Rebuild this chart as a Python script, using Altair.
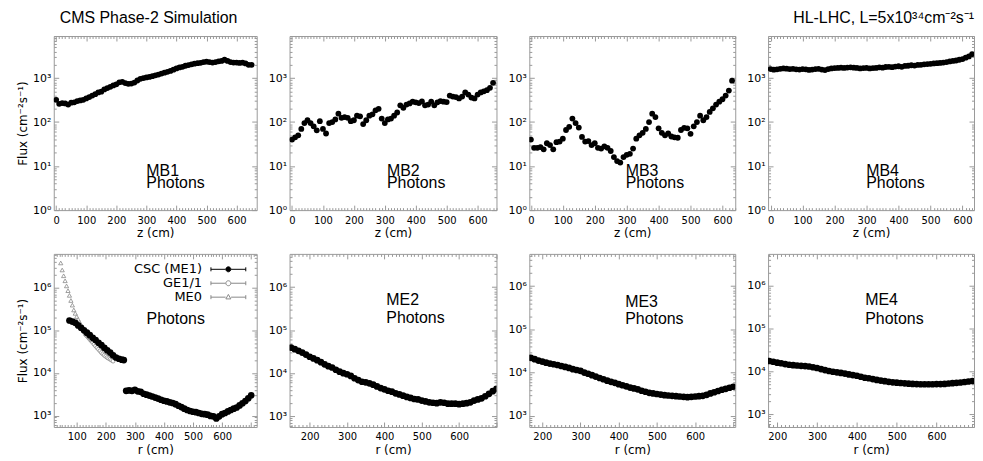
import altair as alt
import pandas as pd

# ---------------- data ----------------
z_mb12 = list(range(0, 660, 10))   # 0..650 cm
z_mb34 = list(range(0, 640, 10))   # 0..630 cm

mb1 = [320, 260, 270, 265, 250, 275, 280, 300, 310, 320,
       345, 370, 400, 430, 470, 490, 550, 590, 630, 680,
       720, 800, 820, 770, 740, 750, 790, 880, 960, 1000,
       1030, 1060, 1100, 1150, 1200, 1260, 1320, 1380, 1450, 1550,
       1650, 1740, 1800, 1900, 1970, 2050, 2120, 2170, 2220, 2300,
       2350, 2300, 2250, 2300, 2400, 2450, 2600, 2450, 2300, 2250,
       2250, 2200, 2250, 2150, 2000, 2000]
mb2 = [40, 45, 50, 70, 95, 110, 95, 80, 65, 105,
       70, 55, 95, 100, 115, 155, 125, 130, 125, 105,
       110, 140, 135, 90, 110, 140, 150, 185, 200, 120,
       95, 115, 120, 140, 165, 240, 210, 250, 265, 290,
       280, 270, 295, 240, 250, 290, 240, 280, 300, 290,
       285, 400, 380, 370, 345, 380, 470, 420, 360, 345,
       420, 470, 500, 530, 600, 780]
mb3 = [40, 26, 26, 27, 24, 33, 30, 24, 35, 36,
       42, 66, 78, 120, 95, 75, 46, 36, 37, 30,
       33, 26, 25, 28, 26, 22, 16, 13, 12, 16,
       18, 19, 25, 42, 50, 57, 70, 100, 155, 130,
       72, 57, 50, 55, 47, 45, 44, 66, 74, 72,
       54, 80, 100, 140, 110, 130, 170, 205, 250, 290,
       330, 400, 520, 870]
mb4 = [1600, 1550, 1580, 1620, 1650, 1630, 1600, 1620, 1580, 1560,
       1600, 1580, 1530, 1560, 1600, 1620, 1560, 1520, 1600, 1650,
       1680, 1700, 1720, 1700, 1730, 1750, 1720, 1700, 1650, 1680,
       1700, 1650, 1680, 1700, 1750, 1720, 1780, 1800, 1760, 1820,
       1850, 1800, 1880, 1900, 1950, 1920, 1980, 2000, 2050, 2080,
       2100, 2150, 2180, 2200, 2250, 2300, 2380, 2450, 2500, 2600,
       2700, 2900, 3100, 3500]

r_csc1_a = [75, 85, 95, 105, 115, 125, 135, 145, 155, 165,
            175, 185, 195, 205, 215, 225, 235, 245, 255, 262]
csc1_a = [1.7e5, 1.6e5, 1.5e5, 1.3e5, 1.15e5, 1.0e5, 8.8e4, 7.7e4, 6.7e4, 5.9e4,
          5.1e4, 4.5e4, 3.9e4, 3.4e4, 3.0e4, 2.6e4, 2.3e4, 2.15e4, 2.05e4, 2.0e4]
r_csc1_b = list(range(270, 710, 10))
csc1_b = [3800, 3900, 3800, 4000, 3700, 3600, 3250, 3100, 2950, 2800,
          2650, 2500, 2350, 2230, 2150, 2050, 1970, 1850, 1700, 1580,
          1450, 1350, 1280, 1230, 1200, 1150, 1100, 1080, 1050, 980,
          960, 860, 960, 1080, 1150, 1250, 1350, 1450, 1550, 1730,
          1950, 2200, 2550, 3000]
r_ge11 = list(range(130, 230, 5))
ge11 = [8.0e4, 7.4e4, 6.8e4, 6.2e4, 5.7e4, 5.2e4, 4.7e4, 4.3e4, 3.9e4, 3.6e4,
        3.3e4, 3.0e4, 2.8e4, 2.6e4, 2.45e4, 2.3e4, 2.2e4, 2.1e4, 2.0e4, 1.9e4]
r_me0 = list(range(45, 155, 5))
me0 = [3.8e6, 2.6e6, 1.9e6, 1.45e6, 1.1e6, 8.5e5, 6.6e5, 5.0e5, 3.9e5, 3.0e5,
       2.5e5, 2.1e5, 1.8e5, 1.55e5, 1.35e5, 1.2e5, 1.07e5, 9.5e4, 8.5e4, 7.6e4,
       6.8e4, 6.0e4]

r_me2 = list(range(150, 710, 10))
me2 = [3.9e4, 3.6e4, 3.3e4, 3.0e4, 2.7e4, 2.4e4, 2.2e4, 2.0e4, 1.8e4, 1.6e4,
       1.45e4, 1.35e4, 1.2e4, 1.08e4, 1.0e4, 9400, 8600, 7600, 6900, 6300,
       6100, 5800, 5400, 4900, 4500, 4200, 3900, 3700, 3400, 3200,
       3000, 2800, 2650, 2500, 2450, 2300, 2200, 2100, 2050, 2000,
       2100, 2050, 1950, 1950, 1950, 1900, 1950, 2000, 2100, 2300,
       2450, 2600, 2900, 3300, 3800, 4300]
r_me3 = list(range(170, 710, 10))
me3 = [2.2e4, 2.05e4, 1.9e4, 1.8e4, 1.7e4, 1.62e4, 1.56e4, 1.5e4, 1.42e4, 1.35e4,
       1.28e4, 1.2e4, 1.15e4, 1.1e4, 1.0e4, 9400, 8700, 8100, 7500, 7000,
       6500, 6100, 5800, 5400, 5100, 4800, 4500, 4300, 4100, 3800,
       3600, 3400, 3300, 3200, 3100, 3000, 2950, 2900, 2850, 2800,
       2750, 2700, 2750, 2800, 2850, 2900, 3050, 3300, 3500, 3750,
       4000, 4200, 4450, 4700]
r_me4 = list(range(180, 700, 10))
me4 = [1.75e4, 1.68e4, 1.6e4, 1.55e4, 1.48e4, 1.43e4, 1.4e4, 1.37e4, 1.35e4, 1.33e4,
       1.3e4, 1.25e4, 1.2e4, 1.13e4, 1.07e4, 1.02e4, 9800, 9500, 9200, 8900,
       8500, 8200, 7900, 7500, 7100, 6900, 6600, 6300, 6100, 5900,
       5700, 5550, 5450, 5350, 5250, 5150, 5100, 5050, 5000, 5000,
       5000, 5000, 5050, 5050, 5100, 5200, 5300, 5400, 5500, 5650,
       5800, 5950]

legend_names = ["CSC (ME1)", "GE1/1", "ME0"]
station_top = ["MB1", "MB2", "MB3", "MB4"]
station_bot = ["ME2", "ME3", "ME4"]
label_x_top = [300, 307, 297, 299]
label_x_bot = [405, 417, 421]

title_left = "CMS Phase-2 Simulation"
title_right = "HL-LHC, L=5x10³⁴cm⁻²s⁻¹"
y_title = "Flux (cm⁻²s⁻¹)"

# ---------------- helpers ----------------
TXT_FONT = "Liberation Sans"
TICK_FONT = "DejaVu Sans"
SUP = "['⁰','¹','²','³','⁴','⁵','⁶','⁷','⁸','⁹']"
DEC = "abs(log(datum.value)/LN10 - round(log(datum.value)/LN10)) < 1e-6"
XMAJ = "datum.value % 100 === 0"
TOP_H, BOT_H = 175, 174
col_w = [204, 208, 207, 207]


def xvals(lo, hi):
    return [v for v in range(0, 800, 10) if lo <= v <= hi]


def yvals(lo, hi):
    return [m * 10 ** k for k in range(0, 8) for m in range(1, 10) if lo <= m * 10 ** k <= hi]


def x_label_axis(title, lo, hi):
    return alt.Axis(values=xvals(lo, hi), title=title, format="d", orient="bottom",
                    labelExpr=f"({XMAJ}) && datum.value <= 600 ? datum.label : ''",
                    ticks=False, tickSize=0, labelPadding=5, labelFontSize=10,
                    labelFlush=False, labelOverlap=False, grid=False, domain=False)


def y_label_axis(title, lo, hi):
    return alt.Axis(values=yvals(lo, hi), title=title, orient="left",
                    labelExpr=f"{DEC} ? '10' + {SUP}[round(log(datum.value)/LN10)] : ''",
                    ticks=False, tickSize=0, labelPadding=3, labelFontSize=11,
                    labelFlush=False, labelOverlap=False, grid=False, domain=False)


def x_tick_axis(orient, lo, hi, h):
    return alt.Axis(values=xvals(lo, hi), orient=orient, offset=-h, labels=False, title=None,
                    tickSize={"condition": {"test": XMAJ, "value": 5}, "value": 2.5},
                    grid=False, domain=False)


def y_tick_axis(orient, lo, hi, w):
    return alt.Axis(values=yvals(lo, hi), orient=orient, offset=-w, labels=False, title=None,
                    tickSize={"condition": {"test": DEC, "value": 5}, "value": 2.5},
                    grid=False, domain=False)


def enc(xdom, ydom, xax, yax):
    return dict(
        x=alt.X("x:Q", scale=alt.Scale(domain=xdom, nice=False, zero=False), axis=xax),
        y=alt.Y("y:Q", scale=alt.Scale(type="log", domain=ydom, nice=False), axis=yax),
    )


def frame_layers(df, xdom, ydom, w, h):
    """Invisible helper layers that carry the inward ticks on all four sides."""
    a = alt.Chart(df).mark_circle(opacity=0, size=1).encode(
        **enc(xdom, ydom, x_tick_axis("top", *xdom, h), y_tick_axis("right", *ydom, w)))
    b = alt.Chart(df).mark_circle(opacity=0, size=1).encode(
        **enc(xdom, ydom, x_tick_axis("bottom", *xdom, h), y_tick_axis("left", *ydom, w)))
    return [a, b]


def text_layer(xs, ys, texts, xdom, ydom):
    df = pd.DataFrame({"x": xs, "y": ys, "t": texts})
    return alt.Chart(df).mark_text(align="left", baseline="middle", font=TXT_FONT,
                                   fontSize=16, color="black").encode(
        text="t:N", **enc(xdom, ydom, None, None))


# ---------------- top row ----------------
top_data = [(z_mb12, mb1), (z_mb12, mb2), (z_mb34, mb3), (z_mb34, mb4)]
top_xdom = [[-8, 667], [-8, 661], [-5, 640], [-8, 636]]
panels = []
for i in range(4):
    xs, ys = top_data[i]
    xdom = top_xdom[i]
    ydom = [1, 9000]
    df = pd.DataFrame({"x": xs, "y": ys})
    pts = alt.Chart(df).mark_circle(size=34, color="black", opacity=1, clip=True).encode(
        **enc(xdom, ydom, x_label_axis("z (cm)", *xdom),
              y_label_axis(y_title if i == 0 else None, *ydom)))
    txt = text_layer([label_x_top[i]] * 2, [7.9, 4.1], [station_top[i], "Photons"], xdom, ydom)
    p = alt.layer(pts, *frame_layers(df, xdom, ydom, col_w[i], TOP_H), txt).resolve_axis(
        x="independent", y="independent").properties(width=col_w[i], height=TOP_H)
    if i == 0:
        p = p.properties(title=alt.TitleParams(title_left, anchor="start", frame="group", dx=6,
                                               font=TXT_FONT, fontSize=16, fontWeight="normal",
                                               offset=4))
    if i == 3:
        p = p.properties(title=alt.TitleParams(title_right, anchor="end", frame="group",
                                               font=TXT_FONT, fontSize=16, fontWeight="normal",
                                               offset=4))
    panels.append(p)

# ---------------- bottom row: ME1 ----------------
xdom = [21, 719]
ydom = [540, 6.2e6]
e_lab = enc(xdom, ydom, x_label_axis("r (cm)", *xdom), y_label_axis(y_title, *ydom))
e_none = enc(xdom, ydom, None, None)
csc_df = pd.DataFrame({"x": r_csc1_a + r_csc1_b, "y": csc1_a + csc1_b})
ge_l = alt.Chart(pd.DataFrame({"x": r_ge11, "y": ge11})).mark_point(
    shape="circle", size=16, stroke="#888", fill="white", strokeWidth=0.8,
    opacity=1, fillOpacity=1, clip=True).encode(**e_none)
me0_l = alt.Chart(pd.DataFrame({"x": r_me0, "y": me0})).mark_point(
    shape="triangle-up", size=18, stroke="#888", fill="white", strokeWidth=0.8,
    opacity=1, fillOpacity=1, clip=True).encode(**e_none)
csc_l = alt.Chart(csc_df).mark_circle(size=45, color="black", opacity=1, clip=True).encode(**e_lab)

circ_bar = ("M-3.5,-0.4V0.4M-3.5,0H-0.55M0.55,0H3.5M3.5,-0.4V0.4"
            "M-0.5,0A0.5,0.5,0,1,1,0.5,0A0.5,0.5,0,1,1,-0.5,0Z")
tri_bar = ("M-3.5,-0.4V0.4M-3.5,0H-0.55M0.55,0H3.5M3.5,-0.4V0.4"
           "M0,-0.55L0.5,0.35L-0.5,0.35Z")
leg = alt.Legend(title=None, orient="top-right", labelAlign="right", labelOffset={"expr": "-33"},
                 labelFont=TICK_FONT, labelFontSize=13, symbolStrokeWidth=1,
                 rowPadding=0, padding=2, offset=7, labelLimit=0)
leg_df = pd.DataFrame({"x": [None, None, None], "y": [None, None, None], "s": legend_names})
leg_l = alt.Chart(leg_df).mark_point(opacity=1, filled=False, strokeWidth=1, size=100).encode(
    shape=alt.Shape("s:N", scale=alt.Scale(domain=legend_names, range=[circ_bar, circ_bar, tri_bar]), legend=leg),
    color=alt.Color("s:N", scale=alt.Scale(domain=legend_names, range=["black", "#888", "#888"]), legend=leg),
    fill=alt.Fill("s:N", scale=alt.Scale(domain=legend_names, range=["black", "white", "white"]), legend=leg),
    **e_none)
txt = text_layer([340], [1.86e5], ["Photons"], xdom, ydom)
panels.append(alt.layer(ge_l, me0_l, csc_l, *frame_layers(csc_df, xdom, ydom, col_w[0], BOT_H),
                        leg_l, txt).resolve_axis(x="independent", y="independent").properties(
    width=col_w[0], height=BOT_H))

# ---------------- bottom row: ME2-ME4 ----------------
bot_data = [(r_me2, me2), (r_me3, me3), (r_me4, me4)]
bot_xdom = [[146, 700], [166, 705], [177, 694]]
bot_ydom = [[560, 5.9e6], [550, 5.6e6], [500, 5.6e6]]
bot_ty = [(4.9e5, 1.9e5), (4.4e5, 1.7e5), (4.6e5, 1.66e5)]
for i in range(3):
    xs, ys = bot_data[i]
    xdom, ydom = bot_xdom[i], bot_ydom[i]
    w = col_w[i + 1]
    df = pd.DataFrame({"x": xs, "y": ys})
    pts = alt.Chart(df).mark_circle(size=45, color="black", opacity=1, clip=True).encode(
        **enc(xdom, ydom, x_label_axis("r (cm)", *xdom), y_label_axis(None, *ydom)))
    txt = text_layer([label_x_bot[i]] * 2, list(bot_ty[i]), [station_bot[i], "Photons"], xdom, ydom)
    panels.append(alt.layer(pts, *frame_layers(df, xdom, ydom, w, BOT_H), txt).resolve_axis(
        x="independent", y="independent").properties(width=w, height=BOT_H))

chart = alt.concat(*panels, columns=4, spacing={"row": 44, "column": 33}, bounds="flush").resolve_scale(
    color="independent", shape="independent", fill="independent"
).properties(
    padding={"left": 8, "top": 0, "right": 0, "bottom": 0}
).configure_view(stroke="#999", strokeWidth=1).configure_axis(
    labelFont=TICK_FONT, labelColor="black", tickColor="#999",
    titleFont=TICK_FONT, titleFontSize=12, titleFontWeight="normal", titleColor="black",
    titlePadding=3
)

chart.save("out.html", embed_options={"renderer": "svg", "actions": False})
